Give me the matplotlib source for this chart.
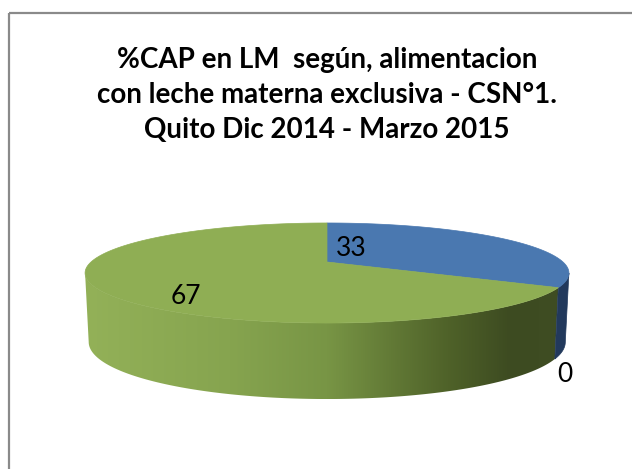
import numpy as np
import matplotlib.pyplot as plt
from matplotlib.patches import Polygon, Rectangle
from matplotlib.colors import LinearSegmentedColormap

titulo = '%CAP en LM  según, alimentacion\ncon leche materna exclusiva - CSN°1.\nQuito Dic 2014 - Marzo 2015'
valores = [33, 67, 0]
etiquetas = ['33', '67', '0']
colores_sup = ['#4a78b0', '#8fae54', '#b84a48']
colores_lado = ['#22395c', None, '#6b2a29']

# geometria del pastel 3D con perspectiva (en pixeles)
cx, cy = 327, 262
A, B = 236, 47.6
k = 0.22          # perspectiva
d0, d1 = 67, 9    # grosor
enc = 0.985       # la base se ve un poco mas angosta
ks = np.degrees(np.arcsin(k))  # angulo de la silueta

verde = LinearSegmentedColormap.from_list('verde', [
    (0.0, '#93b158'), (0.3, '#86a44f'), (0.5, '#789545'),
    (0.75, '#4f6229'), (0.88, '#3d4b21'), (1.0, '#3f4d23')])


def arco(t0, t1, base=False, n=300):
    t = np.radians(np.linspace(t0, t1, n))
    u, v = np.cos(t), np.sin(t)
    w = 1 + k * v
    x = u / w
    y = -v / w
    if base:
        return np.column_stack([cx + A * enc * x, cy + B * y + d0 + d1 * (-v)])
    return np.column_stack([cx + A * x, cy + B * y])


def parte_frontal(a, b):
    # interseccion del rango [a, b] con la parte visible del lado
    res = []
    for j in (-1, 0, 1):
        lo, hi = max(a, -180 + ks + 360 * j), min(b, -ks + 360 * j)
        if hi > lo:
            res.append((lo, hi))
    return res


fig = plt.figure(figsize=(6.32, 4.69), dpi=100)
ax = fig.add_axes([0, 0, 1, 1])
ax.set_xlim(0, 632)
ax.set_ylim(469, 0)
ax.axis('off')

ax.add_patch(Rectangle((9, 13), 700, 600, fill=False, edgecolor='#8a8a8a', lw=1.6))

total = float(sum(valores))
inicio = 90.0
rangos = []
for v in valores:
    fin = inicio - 360 * v / total
    rangos.append((fin, inicio))
    inicio = fin

# lados
for (a, b), c in zip(rangos, colores_lado):
    for lo, hi in parte_frontal(a, b):
        pts = np.vstack([arco(lo, hi), arco(hi, lo, base=True)])
        if c is None:
            poly = Polygon(pts, closed=True, facecolor='none', edgecolor='none')
            ax.add_patch(poly)
            grad = np.linspace(0, 1, 512).reshape(1, -1)
            im = ax.imshow(grad, cmap=verde, aspect='auto',
                           extent=[pts[:, 0].min(), cx + A / np.sqrt(1 - k * k),
                                   pts[:, 1].max(), pts[:, 1].min()],
                           interpolation='bilinear')
            im.set_clip_path(poly)
        else:
            ax.add_patch(Polygon(pts, closed=True, facecolor=c, edgecolor=c, lw=0.5))

# tapa superior
for (a, b), c in zip(rangos, colores_sup):
    if b - a <= 0:
        continue
    pts = np.vstack([[cx, cy], arco(b, a)])
    ax.add_patch(Polygon(pts, closed=True, facecolor=c, edgecolor=c, lw=0.5))

ax.set_xlim(0, 632)
ax.set_ylim(469, 0)

ax.text(327, 95, titulo, ha='center', va='center', fontsize=20,
        fontweight='bold', family='Lato', linespacing=1.45, color='#000000')

pos_etiquetas = [(351, 248), (186, 296), (565, 375)]
for t, (x, y) in zip(etiquetas, pos_etiquetas):
    ax.text(x, y, t, ha='center', va='center', fontsize=19, family='Lato', color='#000000')

fig.savefig('out.png', dpi=100)
